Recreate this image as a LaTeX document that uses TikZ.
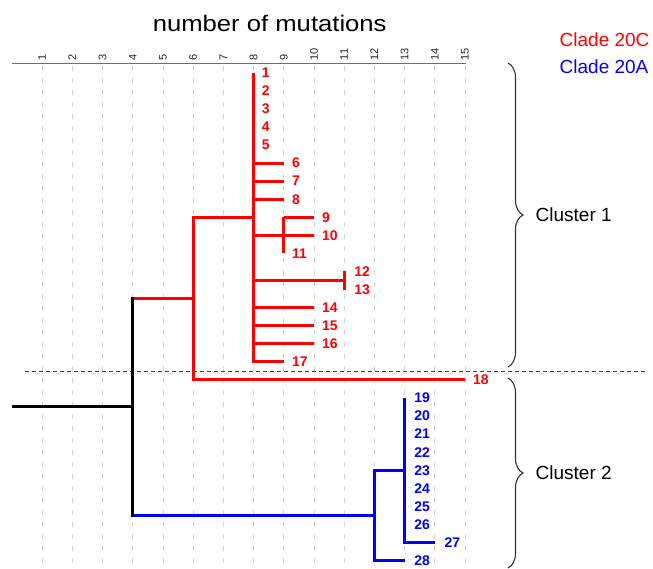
\documentclass[tikz,border=0pt]{standalone}
\usepackage{fontspec}
\setmainfont{Liberation Sans}
\usetikzlibrary{decorations.pathreplacing,calc}
\definecolor{cred}{RGB}{255,0,0}
\definecolor{cblue}{RGB}{0,0,255}
\definecolor{gridgray}{RGB}{210,210,210}
\definecolor{axisgray}{RGB}{110,110,110}
\definecolor{axlabgray}{RGB}{35,35,35}
\definecolor{bracegray}{RGB}{50,50,50}
\newcommand{\colx}[1]{12+30.2*(#1)}
\newcommand{\rowy}[1]{72.7+18.07*(#1-1)}
\tikzset{
  gridline/.style={draw=gridgray, line width=0.9pt, dash pattern=on 5pt off 7pt},
  axisline/.style={draw=axisgray, line width=1.2pt},
  axlab/.style={font=\fontsize{11}{12}\selectfont, text=axlabgray, anchor=west, inner sep=0pt, rotate=90},
  redbranch/.style={draw=cred, line width=3pt},
  bluebranch/.style={draw=cblue, line width=3pt},
  blackbranch/.style={draw=black, line width=3pt},
  leaflab/.style={font=\fontsize{14}{16}\selectfont\bfseries, anchor=west, inner sep=0pt},
  redlab/.style={leaflab, text=cred},
  bluelab/.style={leaflab, text=cblue},
  sepline/.style={draw=black!75, line width=0.9pt, dash pattern=on 4pt off 3pt},
  clusterbrace/.style={draw=bracegray, line width=1.1pt, decorate, decoration={brace, amplitude=15pt}},
  bigtext/.style={font=\fontsize{19}{22}\selectfont, inner sep=0pt}
}
\begin{document}
\begin{tikzpicture}[x=1pt,y=-1pt]
\useasboundingbox (0,0) rectangle (653,569);
% grid and axis
\foreach \k in {1,...,15} {
  \draw[gridline] ({\colx{\k}},66) -- ({\colx{\k}},565);
  \node[axlab] (ax\k) at ({\colx{\k}},60.5) {\k};
}
\coordinate (axL) at (12,63.5);
\coordinate (axR) at (466,63.5);
\draw[axisline] (axL) -- (axR);
\node[font=\fontsize{22.5}{26}\selectfont, inner sep=0pt, anchor=base, xscale=1.14] (title) at (269.7,31.7) {number of mutations};
\node[bigtext, text=cred, anchor=base west] (c20c) at (559.5,46.7) {Clade 20C};
\node[bigtext, text=cblue, anchor=base west] (c20a) at (559.5,74) {Clade 20A};
% separator
\coordinate (sepL) at (25,371);
\coordinate (sepR) at (646,371);
\draw[sepline] (sepL) -- (sepR);
% tips
\foreach \i/\c in {1/8,2/8,3/8,4/8,5/8,6/9,7/9,8/9,9/10,10/10,11/9,12/11,13/11,14/10,15/10,16/10,17/9,18/15,19/13,20/13,21/13,22/13,23/13,24/13,25/13,26/13,27/14,28/13}
  \coordinate (t\i) at ({\colx{\c}},{\rowy{\i}});
% internal nodes
\coordinate (a9) at ({\colx{9}},{\rowy{10}});
\coordinate (a12) at ({\colx{11}},{(\rowy{12}+\rowy{13})/2});
\coordinate (c8) at ({\colx{8}},{\rowy{9}});
\coordinate (d6) at ({\colx{6}},{(\rowy{9}+\rowy{18})/2});
\coordinate (e13) at ({\colx{13}},{\rowy{23}});
\coordinate (f12) at ({\colx{12}},{(\rowy{23}+\rowy{28})/2});
\coordinate (r4) at ({\colx{4}},{((\rowy{9}+\rowy{18})/2+(\rowy{23}+\rowy{28})/2)/2});
\coordinate (root) at ({\colx{0}},{((\rowy{9}+\rowy{18})/2+(\rowy{23}+\rowy{28})/2)/2});
% red clade
\draw[redbranch] (t1) -- (t17 -| t1) -- (t17);
\foreach \i in {6,7,8,14,15,16} \draw[redbranch] (t1 |- t\i) -- (t\i);
\draw[redbranch] (c8 |- t10) -- (a9) -- (t10);
\draw[redbranch] (a9 |- t9) -- (t11);
\draw[redbranch] (a9 |- t9) -- (t9);
\draw[redbranch] (c8 |- a12) -- (a12);
\draw[redbranch] (t12) -- (t13);
\draw[redbranch] (c8) -- (d6 |- c8) -- (t18 -| d6) -- (t18);
\draw[redbranch] (r4 |- d6) -- (d6);
% blue clade
\draw[bluebranch] (r4 |- f12) -- (f12);
\draw[bluebranch] (e13 |- t19) -- (t27 -| e13) -- (t27);
\draw[bluebranch] (e13) -- (f12 |- e13) -- (f12 |- t28) -- (t28);
% black root
\draw[blackbranch, line cap=rect] (r4 |- d6) -- (r4 |- f12);
\draw[blackbranch] (root) -- (r4);
% labels
\foreach \i in {1,...,11,14,15,16,17,18}
  \node[redlab, xshift=8pt] (l\i) at (t\i) {\i};
\foreach \i in {12,13}
  \node[redlab, xshift=10pt] (l\i) at (t\i) {\i};
\foreach \i in {19,...,28}
  \node[bluelab, xshift=9.5pt] (l\i) at (t\i) {\i};
% braces
\coordinate (b1t) at (508,63);
\coordinate (b1b) at (508,367);
\coordinate (b2t) at (508,378);
\coordinate (b2b) at (508,568);
\draw[clusterbrace] (b1t) -- (b1b);
\draw[clusterbrace] (b2t) -- (b2b);
\node[bigtext, anchor=west] (cl1) at (535.5,215) {Cluster 1};
\node[bigtext, anchor=west] (cl2) at (535.5,473) {Cluster 2};
\end{tikzpicture}
\end{document}
